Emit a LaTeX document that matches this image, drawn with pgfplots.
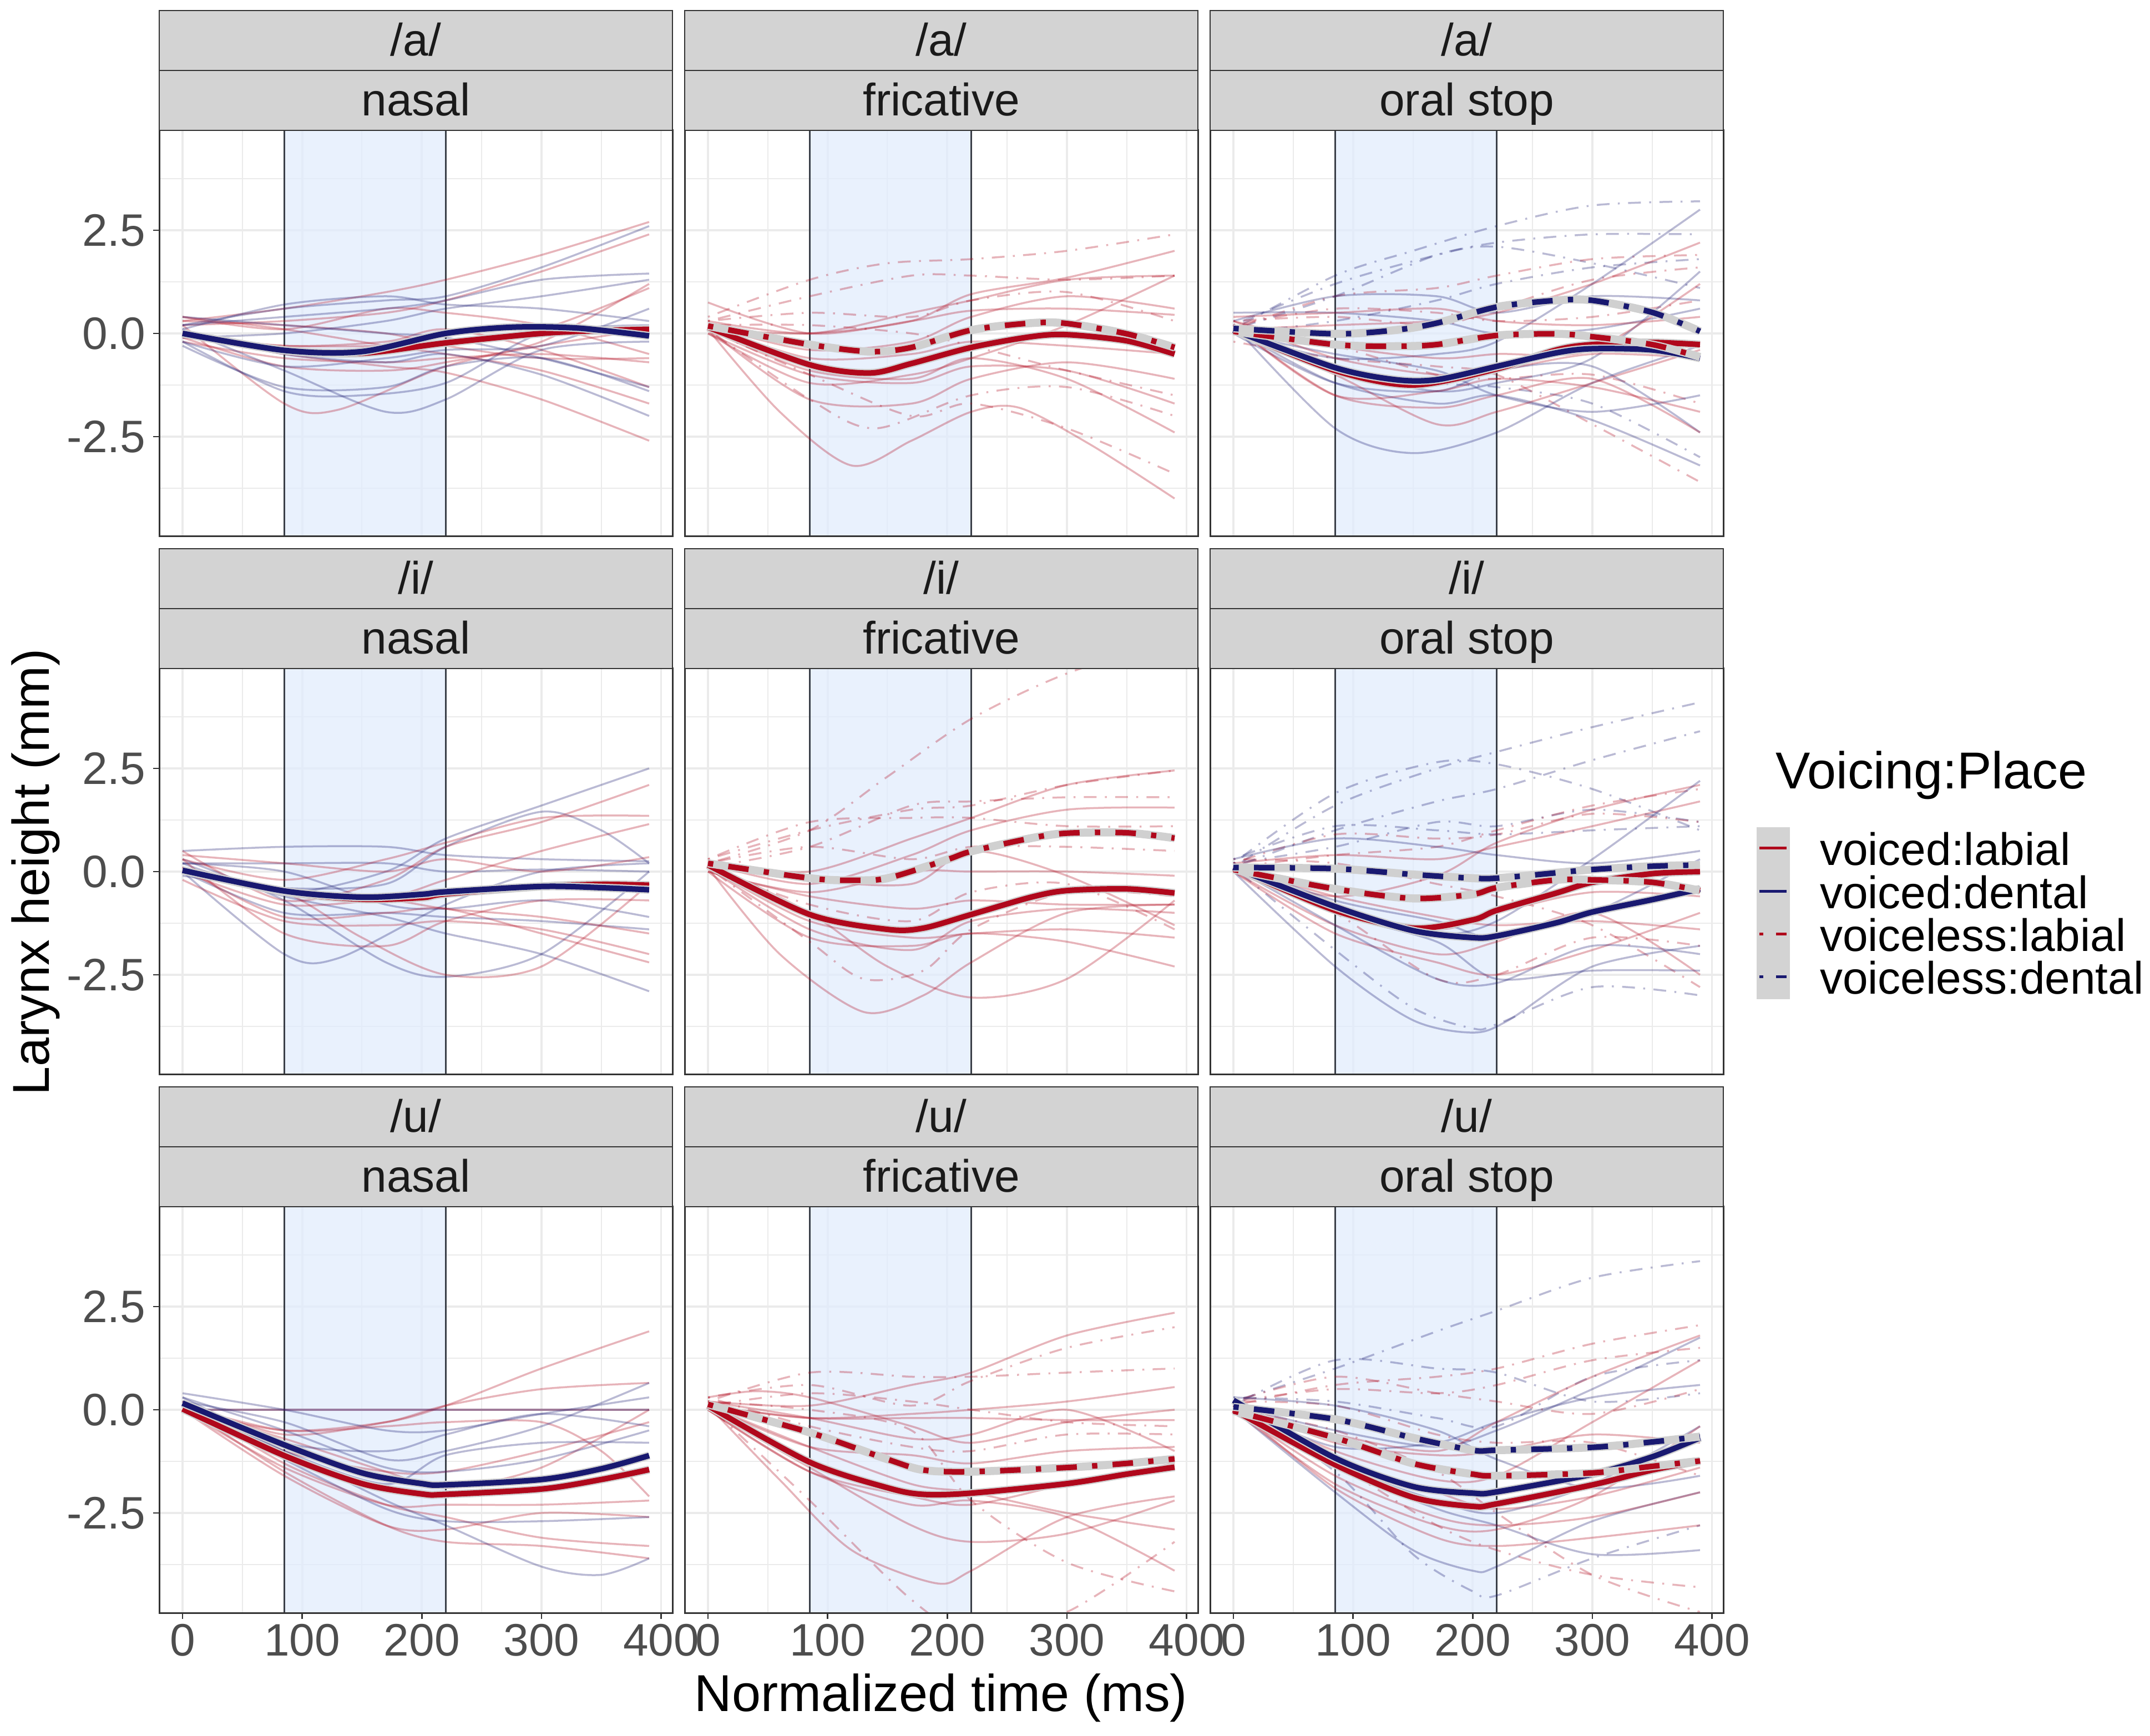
\documentclass[border=0pt]{standalone}
\usepackage{pgfplots}
\pgfplotsset{compat=1.18}
\usepackage{fontspec}
\setmainfont{Liberation Sans}
\newcommand\fs{\fontsize{16.4pt}{18pt}\selectfont}
\newcommand\fl{\fontsize{18.7pt}{21pt}\selectfont}
\definecolor{mred}{HTML}{B0081C}
\definecolor{mblue}{HTML}{191970}
\definecolor{g92}{HTML}{EBEBEB}
\definecolor{g20}{HTML}{333333}
\definecolor{g30}{HTML}{4D4D4D}
\definecolor{g10}{HTML}{1A1A1A}
\definecolor{stripbg}{HTML}{D3D3D3}
\definecolor{shadeb}{HTML}{E1ECFD}
\definecolor{vlc}{HTML}{3A3F48}
\definecolor{band}{HTML}{D0D0D0}
\pgfplotsset{
 panel/.style={scale only axis, width=185pt, height=146.4pt, anchor=south west,
   xmin=-19.5, xmax=409.5, ymin=-4.92, ymax=4.92,
   xtick={0,100,200,300,400}, ytick={-2.5,0,2.5},
   minor xtick={50,150,250,350}, minor ytick={-3.75,-1.25,1.25,3.75},
   grid=both, major grid style={draw=g92, line width=0.75pt}, minor grid style={draw=g92, line width=0.4pt},
   axis line style={draw=g20, line width=0.6pt},
   tick align=outside, tick pos=left, major tick length=2.2pt, minor tick length=0pt,
   xtick style={draw=none}, ytick style={draw=none},
   xticklabels={}, yticklabels={},
   ticklabel style={font=\fs, text=g30, inner sep=0pt},
   yticklabel style={anchor=east, xshift=-2.6pt},
   xticklabel style={anchor=north, yshift=-1.6pt},
   no markers, clip=true},
 ylab/.style={yticklabels={-2.5,0.0,2.5}, ytick style={draw=g20, line width=0.55pt}},
 xlab/.style={xticklabels={0,100,200,300,400}, xtick style={draw=g20, line width=0.55pt}},
 tr/.style={draw=mred, draw opacity=0.3, line width=0.7pt, smooth},
 tb/.style={draw=mblue, draw opacity=0.3, line width=0.7pt, smooth},
 trd/.style={tr, dash pattern=on 0.7pt off 3pt on 4.6pt off 3pt},
 tbd/.style={tb, dash pattern=on 0.7pt off 3pt on 4.6pt off 3pt},
 mean/.style={line width=2.0pt, smooth, preaction={draw=band, line width=2.9pt, solid}},
 mr/.style={mean, draw=mred},
 mb/.style={mean, draw=mblue},
 mrd/.style={mean, draw=mred, dash pattern=on 1.9pt off 5.5pt on 7.4pt off 5.5pt},
 mbd/.style={mean, draw=mblue, dash pattern=on 1.9pt off 5.5pt on 7.4pt off 5.5pt},
}
\newcommand\bgpanel{%
 \fill[shadeb, fill opacity=0.75] (85,-10) rectangle (220,10);
 \draw[vlc, line width=0.6pt] (85,-10) -- (85,10);
 \draw[vlc, line width=0.6pt] (220,-10) -- (220,10);}
\newcommand\strip[4]{%
 \draw[fill=stripbg, draw=g20, line width=0.5pt] (#1pt,#2pt) rectangle ++(185pt,21.6pt);
 \draw[fill=stripbg, draw=g20, line width=0.5pt] (#1pt,#2pt+21.6pt) rectangle ++(185pt,21.6pt);
 \node[anchor=base, font=\fs, text=g10, inner sep=0pt] at (#1pt+92.5pt,#2pt+5.2pt) {#4};
 \node[anchor=base, font=\fs, text=g10, inner sep=0pt] at (#1pt+92.5pt,#2pt+26.8pt) {#3};}
\newcommand\border[2]{\draw[g20, line width=0.6pt] (#1pt,#2pt) rectangle ++(185pt,146.4pt);}
\begin{document}
\begin{tikzpicture}
\path[use as bounding box] (0pt,0pt) rectangle (775pt,625.6pt);

% ---------------- Row 1: /a/ ----------------
\begin{axis}[panel, ylab, at={(57.4pt,432.2pt)}]
\bgpanel
\addplot[tr] coordinates {(0,0.3)(85,0.6)(170,1.0)(220,1.3)(300,1.9)(390,2.7)};
\addplot[tr] coordinates {(0,0.2)(85,0.3)(170,0.5)(220,0.8)(300,1.5)(390,2.4)};
\addplot[tr] coordinates {(0,-0.1)(85,-0.3)(170,-0.3)(220,-0.2)(300,0.1)(390,1.1)};
\addplot[tr] coordinates {(0,0)(85,-0.5)(170,-0.8)(220,-0.95)(300,-1.6)(390,-2.6)};
\addplot[tr] coordinates {(0,0.4)(85,0.1)(170,-0.3)(220,-0.5)(300,-0.9)(390,-1.7)};
\addplot[tr] coordinates {(0,0.2)(85,-1.7)(130,-1.85)(220,-0.8)(300,-0.3)(390,0.1)};
\addplot[tr] coordinates {(0,-0.2)(85,-0.6)(170,-0.7)(220,-0.6)(300,-0.5)(390,-0.7)};
\addplot[tr] coordinates {(0,0.3)(85,0.2)(170,0.0)(220,-0.3)(300,-0.6)(390,-0.6)};
\addplot[tr] coordinates {(0,-0.1)(85,-0.8)(170,-0.9)(220,-0.7)(300,-0.2)(390,1.2)};
\addplot[tr] coordinates {(0,0.0)(85,-0.3)(170,-0.2)(220,0.1)(300,-0.4)(390,-1.3)};
\addplot[tr] coordinates {(0,0.4)(85,0.1)(170,0.6)(220,0.5)(300,0.2)(390,-0.5)};
\addplot[tb] coordinates {(0,0.2)(85,0.6)(170,0.8)(220,0.9)(300,1.6)(390,2.6)};
\addplot[tb] coordinates {(0,0.2)(85,0.4)(170,0.6)(220,0.8)(300,1.3)(390,1.45)};
\addplot[tb] coordinates {(0,-0.1)(85,0.0)(170,0.3)(220,0.6)(300,0.9)(390,1.3)};
\addplot[tb] coordinates {(0,-0.2)(85,-0.8)(170,-0.6)(220,-0.4)(300,-0.3)(390,0.6)};
\addplot[tb] coordinates {(0,0.4)(85,0.2)(170,0.0)(220,-0.1)(300,-0.6)(390,-1.3)};
\addplot[tb] coordinates {(0,0.0)(85,-0.5)(170,-0.7)(220,-0.5)(300,-1.0)(390,-2.0)};
\addplot[tb] coordinates {(0,0.1)(85,-0.9)(170,-1.9)(220,-1.6)(300,-0.4)(390,-0.2)};
\addplot[tb] coordinates {(0,-0.3)(85,-1.3)(170,-1.3)(220,-0.8)(300,-0.6)(390,-1.4)};
\addplot[tb] coordinates {(0,0.1)(85,0.7)(170,0.9)(220,0.7)(300,0.6)(390,0.3)};
\addplot[tb] coordinates {(0,-0.2)(85,-1.4)(150,-1.5)(220,-1.2)(300,0.0)(390,0.2)};
\addplot[mr] coordinates {(0,0)(85,-0.41)(150,-0.48)(220,-0.23)(300,0.0)(350,0.07)(390,0.1)};
\addplot[mb] coordinates {(0,0)(85,-0.41)(150,-0.44)(220,0)(275,0.15)(330,0.13)(390,-0.06)};
\end{axis}

\begin{axis}[panel, at={(246.8pt,432.2pt)}]
\bgpanel
\addplot[tr] coordinates {(0,0.1)(85,0.0)(170,0.3)(220,0.95)(300,1.35)(390,2.0)};
\addplot[tr] coordinates {(0,0.3)(85,0.0)(170,0.5)(220,0.8)(300,1.3)(390,1.4)};
\addplot[tr] coordinates {(0,0.75)(85,0.0)(170,0.3)(220,0.55)(300,0.6)(390,0.45)};
\addplot[tr] coordinates {(0,0.0)(85,-1.2)(170,-1.0)(220,-0.6)(300,0.2)(390,1.4)};
\addplot[tr] coordinates {(0,0.1)(60,-1.9)(120,-3.2)(170,-2.6)(220,-1.9)(260,-1.8)(320,-2.7)(390,-4.0)};
\addplot[tr] coordinates {(0,0.1)(85,-0.9)(170,-1.1)(220,-0.6)(300,-1.1)(390,-2.4)};
\addplot[tr] coordinates {(0,0.0)(85,-1.0)(170,-1.2)(220,-0.8)(300,-0.9)(390,-1.7)};
\addplot[tr] coordinates {(0,0.2)(85,-0.6)(170,-0.5)(220,-0.2)(300,-0.3)(390,-0.5)};
\addplot[tr] coordinates {(0,0.1)(85,-1.6)(170,-1.7)(220,-1.1)(300,-0.7)(390,-1.1)};
\addplot[tr] coordinates {(0,0.2)(85,-0.4)(170,-0.2)(220,0.4)(300,0.9)(390,0.6)};
\addplot[trd] coordinates {(0,0.4)(85,1.3)(150,1.7)(220,1.8)(300,2.0)(390,2.4)};
\addplot[trd] coordinates {(0,0.3)(85,0.9)(170,1.4)(220,1.4)(300,1.3)(390,1.4)};
\addplot[trd] coordinates {(0,0.1)(85,-1.0)(170,-2.0)(220,-1.7)(300,-2.3)(390,-3.4)};
\addplot[trd] coordinates {(0,0.1)(85,-1.6)(140,-2.3)(220,-1.5)(300,-1.3)(390,-2.0)};
\addplot[trd] coordinates {(0,0.3)(85,0.5)(170,0.4)(220,0.8)(300,1.0)(390,0.3)};
\addplot[trd] coordinates {(0,0.2)(85,0.2)(170,0.0)(220,-0.3)(300,-0.9)(390,-1.5)};
\addplot[mr] coordinates {(0,0.15)(85,-0.76)(135,-0.96)(170,-0.73)(220,-0.34)(270,-0.08)(300,-0.03)(350,-0.18)(390,-0.5)};
\addplot[mrd] coordinates {(0,0.18)(85,-0.27)(135,-0.44)(170,-0.34)(220,0.08)(270,0.25)(300,0.24)(350,-0.01)(390,-0.34)};
\end{axis}

\begin{axis}[panel, at={(436.2pt,432.2pt)}]
\bgpanel
\addplot[tbd] coordinates {(0,0.1)(85,1.4)(150,2.0)(220,2.6)(300,3.1)(390,3.2)};
\addplot[tbd] coordinates {(0,0.2)(85,1.2)(170,1.9)(220,2.2)(300,2.4)(390,2.4)};
\addplot[tbd] coordinates {(0,0.1)(85,0.9)(170,1.9)(220,2.1)(300,1.7)(390,1.1)};
\addplot[tbd] coordinates {(0,0.0)(85,-0.8)(170,-1.2)(220,-1.3)(300,-1.7)(390,-3.0)};
\addplot[tbd] coordinates {(0,0.0)(85,0.3)(170,0.8)(220,1.2)(300,1.6)(390,1.8)};
\addplot[trd] coordinates {(0,-0.2)(85,-0.6)(170,-0.8)(220,-1.0)(300,-2.2)(390,-3.6)};
\addplot[trd] coordinates {(0,0.1)(85,0.9)(170,1.1)(220,1.4)(300,1.8)(390,1.9)};
\addplot[trd] coordinates {(0,0.2)(85,-0.3)(170,-1.0)(220,-1.1)(300,-1.0)(390,-1.7)};
\addplot[trd] coordinates {(0,0.2)(85,0.6)(170,0.5)(220,0.3)(300,0.4)(390,0.8)};
\addplot[trd] coordinates {(0,0.3)(85,0.4)(170,0.2)(220,0.6)(300,1.3)(390,1.6)};
\addplot[tb] coordinates {(0,0.0)(85,-0.6)(170,-0.5)(220,-0.2)(300,1.2)(390,3.0)};
\addplot[tb] coordinates {(0,0.1)(85,-1.2)(170,-1.7)(220,-1.5)(300,-2.1)(390,-3.2)};
\addplot[tb] coordinates {(0,0.2)(85,-2.3)(150,-2.9)(220,-2.4)(300,-1.2)(390,-0.3)};
\addplot[tb] coordinates {(0,0.1)(85,-0.9)(170,-1.4)(220,-1.2)(300,-0.6)(390,1.5)};
\addplot[tb] coordinates {(0,0.3)(85,0.9)(170,0.9)(220,0.5)(300,0.9)(390,0.8)};
\addplot[tb] coordinates {(0,0.0)(85,-1.2)(170,-1.4)(220,-0.9)(300,-0.8)(390,-2.4)};
\addplot[tb] coordinates {(0,0.5)(85,0.5)(170,0.3)(220,0.0)(300,0.1)(390,0.6)};
\addplot[tb] coordinates {(0,0.0)(85,-0.5)(170,-0.9)(220,-1.5)(300,-1.9)(390,-1.5)};
\addplot[tr] coordinates {(0,0.1)(85,0.2)(170,0.3)(220,0.5)(300,1.2)(390,2.2)};
\addplot[tr] coordinates {(0,0.2)(85,-1.5)(170,-1.8)(220,-1.5)(300,-1.1)(390,-2.4)};
\addplot[tr] coordinates {(0,0.3)(85,-0.6)(170,-1.0)(220,-0.9)(300,-0.5)(390,-0.6)};
\addplot[tr] coordinates {(0,0.4)(85,0.5)(170,0.6)(220,0.3)(300,0.2)(390,0.4)};
\addplot[tr] coordinates {(0,0.0)(85,-1.0)(170,-2.2)(220,-1.9)(300,-1.2)(390,-0.4)};
\addplot[tr] coordinates {(0,0.2)(85,-1.5)(170,-1.4)(220,-1.1)(300,-1.3)(390,-1.9)};
\addplot[tr] coordinates {(0,0.3)(85,-0.3)(170,-0.6)(220,-0.5)(300,-0.4)(390,1.2)};
\addplot[mr] coordinates {(0,0.08)(85,-0.9)(150,-1.25)(220,-0.86)(270,-0.4)(300,-0.27)(350,-0.22)(390,-0.27)};
\addplot[mb] coordinates {(0,0.08)(85,-0.83)(135,-1.12)(170,-1.12)(220,-0.8)(270,-0.47)(300,-0.37)(350,-0.4)(390,-0.6)};
\addplot[mrd] coordinates {(0,0.05)(85,-0.27)(135,-0.31)(170,-0.27)(220,-0.05)(270,-0.01)(300,-0.08)(350,-0.27)(390,-0.57)};
\addplot[mbd] coordinates {(0,0.12)(85,-0.01)(135,0.08)(170,0.25)(220,0.64)(270,0.8)(300,0.8)(350,0.51)(390,0.05)};
\end{axis}

% ---------------- Row 2: /i/ ----------------
\begin{axis}[panel, ylab, at={(57.4pt,238.2pt)}]
\bgpanel
\addplot[tb] coordinates {(0,0.2)(85,-0.5)(170,0.0)(220,0.8)(300,1.6)(390,2.5)};
\addplot[tb] coordinates {(0,-0.1)(85,-0.4)(170,-0.3)(220,0.6)(300,1.45)(350,1.0)(390,0.2)};
\addplot[tb] coordinates {(0,0.1)(85,-0.6)(170,-1.1)(220,-1.5)(300,-2.0)(390,-2.9)};
\addplot[tb] coordinates {(0,0.3)(85,-0.7)(170,-2.2)(220,-2.55)(300,-2.0)(390,0.0)};
\addplot[tb] coordinates {(0,0.5)(85,0.6)(170,0.6)(220,0.4)(300,0.3)(390,0.25)};
\addplot[tb] coordinates {(0,0.0)(85,-2.0)(130,-2.1)(220,-0.8)(300,0.0)(390,0.2)};
\addplot[tb] coordinates {(0,0.0)(85,-1.0)(170,-1.0)(220,-1.1)(300,-1.2)(390,-1.4)};
\addplot[tb] coordinates {(0,0.2)(85,0.0)(170,-0.8)(220,-0.9)(300,-0.7)(390,-1.1)};
\addplot[tb] coordinates {(0,0.2)(85,0.2)(170,0.2)(220,0.0)(300,0.05)(390,0.0)};
\addplot[tr] coordinates {(0,0.5)(85,-0.7)(170,-0.2)(220,0.6)(300,1.2)(390,2.1)};
\addplot[tr] coordinates {(0,0.3)(85,-0.2)(170,0.3)(220,0.7)(300,1.3)(390,1.35)};
\addplot[tr] coordinates {(0,0.0)(85,-0.4)(170,-0.6)(220,-0.2)(300,0.5)(390,1.15)};
\addplot[tr] coordinates {(0,0.1)(85,-1.1)(170,-1.0)(220,-0.9)(300,-1.5)(390,-2.2)};
\addplot[tr] coordinates {(0,-0.2)(85,-1.2)(170,-1.3)(220,-1.2)(300,-1.4)(390,-2.0)};
\addplot[tr] coordinates {(0,0.1)(85,-0.5)(150,-1.6)(220,-2.5)(300,-2.3)(390,-0.3)};
\addplot[tr] coordinates {(0,0.4)(85,0.2)(170,0.0)(220,0.3)(300,0.0)(390,0.35)};
\addplot[tr] coordinates {(0,0.0)(85,-0.8)(170,-0.7)(220,-0.9)(300,-1.1)(390,-1.5)};
\addplot[tr] coordinates {(0,0.3)(85,-1.5)(170,-1.8)(220,-1.2)(300,-0.7)(390,-0.7)};
\addplot[mr] coordinates {(0,0.03)(85,-0.49)(150,-0.67)(200,-0.63)(220,-0.54)(300,-0.36)(350,-0.31)(390,-0.33)};
\addplot[mb] coordinates {(0,0.03)(85,-0.47)(150,-0.62)(200,-0.55)(220,-0.49)(300,-0.36)(350,-0.39)(390,-0.44)};
\end{axis}

\begin{axis}[panel, at={(246.8pt,238.2pt)}]
\bgpanel
\addplot[trd] coordinates {(0,0.2)(85,1.0)(150,2.3)(220,3.7)(300,4.8)(390,5.6)};
\addplot[trd] coordinates {(0,0.3)(85,1.0)(170,1.5)(220,1.6)(300,2.1)(390,2.45)};
\addplot[trd] coordinates {(0,0.1)(85,0.6)(170,1.6)(220,1.7)(300,1.8)(390,1.8)};
\addplot[trd] coordinates {(0,0.3)(85,1.2)(170,1.3)(220,1.3)(300,1.1)(390,1.1)};
\addplot[trd] coordinates {(0,0.1)(85,-1.7)(130,-2.6)(180,-2.4)(220,-1.4)(300,-0.5)(390,-0.6)};
\addplot[trd] coordinates {(0,0.2)(85,0.6)(170,0.3)(220,0.6)(300,0.6)(390,0.5)};
\addplot[trd] coordinates {(0,0.1)(85,-0.8)(170,-1.2)(220,-0.5)(300,-0.3)(390,-1.4)};
\addplot[tr] coordinates {(0,0.2)(85,0.0)(170,0.8)(220,1.3)(300,2.1)(390,2.45)};
\addplot[tr] coordinates {(0,0.2)(85,-0.3)(170,0.4)(220,1.0)(300,1.5)(390,1.55)};
\addplot[tr] coordinates {(0,0.0)(85,-0.5)(170,0.0)(220,0.0)(300,0.0)(390,-0.1)};
\addplot[tr] coordinates {(0,0.1)(60,-2.0)(130,-3.4)(180,-3.0)(220,-2.2)(300,-1.0)(390,-0.8)};
\addplot[tr] coordinates {(0,0.2)(85,-1.0)(150,-2.3)(220,-3.05)(300,-2.6)(390,-0.7)};
\addplot[tr] coordinates {(0,0.0)(85,-1.6)(170,-1.8)(220,-1.5)(300,-1.7)(390,-2.3)};
\addplot[tr] coordinates {(0,0.1)(85,-1.2)(170,-1.6)(220,-1.5)(300,-1.4)(390,-1.6)};
\addplot[tr] coordinates {(0,0.0)(85,-0.6)(170,-0.9)(220,-0.7)(300,-0.8)(390,-0.8)};
\addplot[tr] coordinates {(0,0.2)(85,-0.2)(170,-0.3)(220,0.5)(300,-0.1)(390,-1.3)};
\addplot[tr] coordinates {(0,0.1)(85,-1.4)(170,-1.9)(220,-1.2)(300,-0.9)(390,-1.0)};
\addplot[mr] coordinates {(0,0.16)(85,-1.04)(150,-1.4)(180,-1.37)(220,-1.04)(270,-0.62)(300,-0.46)(350,-0.42)(390,-0.52)};
\addplot[mrd] coordinates {(0,0.2)(85,-0.16)(120,-0.21)(150,-0.16)(200,0.29)(220,0.49)(270,0.81)(300,0.93)(350,0.94)(390,0.81)};
\end{axis}

\begin{axis}[panel, at={(436.2pt,238.2pt)}]
\bgpanel
\addplot[tbd] coordinates {(0,0.1)(85,1.6)(170,2.5)(220,2.9)(300,3.5)(390,4.1)};
\addplot[tbd] coordinates {(0,0.1)(85,1.0)(170,1.7)(220,2.0)(300,2.7)(390,3.4)};
\addplot[tbd] coordinates {(0,0.2)(85,1.9)(170,2.65)(220,2.6)(300,2.0)(390,1.0)};
\addplot[tbd] coordinates {(0,0.1)(85,-1.9)(150,-3.3)(200,-3.8)(220,-3.7)(300,-2.8)(390,-3.0)};
\addplot[tbd] coordinates {(0,0.3)(85,1.1)(170,1.0)(220,0.9)(300,1.0)(390,1.1)};
\addplot[tbd] coordinates {(0,0.2)(85,0.6)(170,1.2)(220,1.1)(300,1.5)(390,1.2)};
\addplot[trd] coordinates {(0,0.1)(85,0.4)(170,0.6)(220,1.0)(300,1.6)(390,2.0)};
\addplot[trd] coordinates {(0,0.2)(85,0.9)(170,0.8)(220,0.9)(300,1.4)(390,1.2)};
\addplot[trd] coordinates {(0,0.0)(85,-1.0)(170,-2.6)(220,-2.5)(300,-1.6)(390,-1.8)};
\addplot[trd] coordinates {(0,0.3)(85,0.2)(170,-0.3)(220,-0.6)(300,-1.3)(390,-2.8)};
\addplot[tr] coordinates {(0,0.0)(85,-0.6)(170,-0.1)(220,0.7)(300,1.5)(390,2.1)};
\addplot[tr] coordinates {(0,0.0)(85,-1.5)(170,-2.2)(220,-2.5)(300,-1.9)(390,-1.0)};
\addplot[tr] coordinates {(0,0.1)(85,-0.9)(170,-1.4)(220,-1.0)(300,-0.5)(390,-0.6)};
\addplot[tr] coordinates {(0,0.0)(85,-1.3)(170,-2.0)(220,-1.7)(300,-1.0)(390,-2.5)};
\addplot[tr] coordinates {(0,0.2)(85,0.4)(170,0.3)(220,0.6)(300,1.1)(390,1.7)};
\addplot[tr] coordinates {(0,0.1)(85,-0.6)(170,-1.1)(220,-1.3)(300,-1.2)(390,-1.4)};
\addplot[tb] coordinates {(0,0.0)(85,-0.9)(170,-1.5)(220,-1.2)(300,0.3)(390,2.2)};
\addplot[tb] coordinates {(0,0.0)(85,-2.3)(150,-3.6)(200,-3.9)(230,-3.6)(300,-2.3)(390,-1.8)};
\addplot[tb] coordinates {(0,0.3)(85,0.8)(170,0.6)(220,0.4)(300,0.2)(390,0.5)};
\addplot[tb] coordinates {(0,0.1)(85,-1.0)(170,-1.7)(220,-2.6)(300,-2.4)(390,-2.4)};
\addplot[tb] coordinates {(0,0.2)(85,-0.7)(170,-1.2)(220,-1.6)(300,-1.0)(390,0.3)};
\addplot[tb] coordinates {(0,0.1)(85,-1.3)(170,-2.6)(220,-2.7)(300,-1.8)(390,-2.0)};
\addplot[mr] coordinates {(0,0.1)(85,-0.94)(150,-1.37)(200,-1.17)(220,-0.94)(270,-0.52)(300,-0.26)(350,-0.05)(390,0.0)};
\addplot[mb] coordinates {(0,0.1)(85,-0.85)(150,-1.43)(200,-1.6)(220,-1.56)(270,-1.24)(300,-0.98)(350,-0.68)(390,-0.42)};
\addplot[mrd] coordinates {(0,0.05)(85,-0.42)(150,-0.65)(200,-0.55)(220,-0.39)(270,-0.2)(300,-0.2)(350,-0.26)(390,-0.46)};
\addplot[mbd] coordinates {(0,0.1)(85,0.07)(150,-0.07)(200,-0.16)(220,-0.16)(270,-0.03)(300,0.05)(350,0.13)(390,0.16)};
\end{axis}

% ---------------- Row 3: /u/ ----------------
\begin{axis}[panel, ylab, xlab, at={(57.4pt,44.2pt)}]
\bgpanel
\addplot[tr] coordinates {(0,0.0)(85,-0.5)(170,-0.3)(220,0.1)(300,1.0)(390,1.9)};
\addplot[tr] coordinates {(0,0.2)(85,-0.6)(170,-0.3)(220,0.1)(300,0.5)(390,0.65)};
\addplot[tr] coordinates {(0,0)(390,0)};
\addplot[tr] coordinates {(0,0.1)(85,-1.0)(170,-1.5)(220,-1.5)(300,-1.0)(390,-0.3)};
\addplot[tr] coordinates {(0,0.0)(85,-1.4)(170,-2.3)(220,-2.3)(300,-2.3)(390,-2.2)};
\addplot[tr] coordinates {(0,0.1)(85,-1.5)(170,-2.8)(220,-3.2)(300,-3.3)(390,-3.6)};
\addplot[tr] coordinates {(0,0.2)(85,-1.3)(170,-2.3)(220,-2.6)(300,-3.1)(390,-3.3)};
\addplot[tr] coordinates {(0,0.0)(85,-0.7)(170,-1.5)(220,-1.9)(300,-1.4)(390,0.0)};
\addplot[tr] coordinates {(0,0.1)(85,-0.5)(170,-0.4)(220,-0.3)(300,-0.3)(350,-1.0)(390,-2.1)};
\addplot[tr] coordinates {(0,0.0)(85,-1.6)(170,-2.8)(220,-2.9)(300,-2.5)(390,-2.6)};
\addplot[tb] coordinates {(0,0.2)(85,-0.3)(170,-1.2)(220,-1.0)(300,-0.4)(390,0.65)};
\addplot[tb] coordinates {(0,0.4)(85,0.0)(170,-0.5)(220,-0.5)(300,-0.1)(390,0.3)};
\addplot[tb] coordinates {(0,0.1)(85,-1.0)(170,-2.2)(220,-2.8)(300,-3.8)(350,-4.0)(390,-3.6)};
\addplot[tb] coordinates {(0,0.1)(85,-1.2)(170,-2.4)(220,-2.7)(300,-2.7)(390,-2.6)};
\addplot[tb] coordinates {(0,0.3)(85,-0.8)(170,-1.0)(220,-0.6)(300,-0.1)(390,-0.4)};
\addplot[tb] coordinates {(0,0.2)(85,-1.0)(170,-1.8)(220,-1.1)(300,-0.8)(390,-0.8)};
\addplot[tb] coordinates {(0,0.3)(85,-0.5)(170,-1.4)(220,-1.5)(300,-1.2)(390,-0.5)};
\addplot[tb] coordinates {(0,0)(390,0)};
\addplot[mr] coordinates {(0,0.02)(85,-1.11)(150,-1.79)(200,-2.04)(220,-2.05)(300,-1.92)(350,-1.69)(390,-1.45)};
\addplot[mb] coordinates {(0,0.16)(85,-0.85)(150,-1.53)(200,-1.79)(220,-1.82)(300,-1.69)(350,-1.43)(390,-1.11)};
\end{axis}

\begin{axis}[panel, xlab, at={(246.8pt,44.2pt)}]
\bgpanel
\addplot[tr] coordinates {(0,0.2)(85,0.1)(170,0.6)(220,0.9)(300,1.8)(390,2.35)};
\addplot[tr] coordinates {(0,0.1)(85,-0.2)(170,-0.1)(220,0.0)(300,0.2)(390,0.55)};
\addplot[tr] coordinates {(0,0.3)(40,0.45)(85,0.3)(170,-0.4)(220,-0.8)(300,-0.3)(390,0.0)};
\addplot[tr] coordinates {(0,0.1)(85,-0.2)(170,-0.2)(220,-0.2)(300,-0.25)(390,-0.25)};
\addplot[tr] coordinates {(0,0.0)(85,-1.5)(170,-2.3)(220,-2.2)(300,-2.6)(390,-3.9)};
\addplot[tr] coordinates {(0,0.1)(60,-1.7)(120,-3.4)(190,-4.2)(220,-3.9)(300,-2.6)(390,-2.1)};
\addplot[tr] coordinates {(0,0.0)(85,-1.5)(170,-2.1)(220,-2.3)(300,-1.8)(390,-1.3)};
\addplot[tr] coordinates {(0,0.1)(85,-0.9)(170,-1.8)(220,-2.0)(300,-2.5)(390,-2.9)};
\addplot[tr] coordinates {(0,0.0)(85,-1.4)(170,-2.8)(220,-3.2)(300,-3.0)(390,-2.2)};
\addplot[tr] coordinates {(0,0.2)(85,-0.2)(170,-0.7)(220,-0.6)(300,0.0)(390,-1.0)};
\addplot[tr] coordinates {(0,0.1)(85,-0.9)(170,-1.1)(220,-1.3)(300,-1.0)(390,-0.9)};
\addplot[trd] coordinates {(0,0.3)(85,0.6)(170,0.1)(220,0.7)(300,1.5)(390,2.0)};
\addplot[trd] coordinates {(0,0.2)(85,0.9)(170,0.8)(220,0.8)(300,0.9)(390,1.0)};
\addplot[trd] coordinates {(0,0.1)(85,-2.2)(170,-4.6)(220,-5.4)(300,-4.9)(390,-3.2)};
\addplot[trd] coordinates {(0,0.3)(85,-0.4)(170,-0.9)(220,-1.0)(300,-0.6)(390,-0.6)};
\addplot[trd] coordinates {(0,0.2)(85,0.0)(170,-0.5)(220,-2.2)(300,-3.7)(390,-4.4)};
\addplot[trd] coordinates {(0,0.1)(85,0.4)(170,0.2)(220,0.0)(300,-0.3)(390,-0.4)};
\addplot[mr] coordinates {(0,0.1)(85,-1.27)(150,-1.89)(180,-2.05)(220,-2.02)(300,-1.79)(350,-1.56)(390,-1.39)};
\addplot[mrd] coordinates {(0,0.13)(85,-0.55)(150,-1.2)(180,-1.46)(220,-1.5)(300,-1.4)(350,-1.3)(390,-1.19)};
\end{axis}

\begin{axis}[panel, xlab, at={(436.2pt,44.2pt)}]
\bgpanel
\addplot[tbd] coordinates {(0,0.2)(85,1.0)(170,1.9)(220,2.4)(300,3.2)(390,3.6)};
\addplot[tbd] coordinates {(0,0.1)(85,-1.5)(150,-3.5)(200,-4.4)(220,-4.5)(300,-3.6)(390,-2.8)};
\addplot[tbd] coordinates {(0,0.1)(85,1.2)(170,1.0)(220,0.9)(300,0.2)(390,0.4)};
\addplot[tbd] coordinates {(0,0.3)(85,0.2)(170,-0.2)(220,-0.4)(300,0.8)(390,1.2)};
\addplot[trd] coordinates {(0,0.1)(85,0.6)(170,0.8)(220,1.0)(300,1.6)(390,2.05)};
\addplot[trd] coordinates {(0,0.2)(85,0.5)(170,0.4)(220,0.6)(300,1.2)(390,1.5)};
\addplot[trd] coordinates {(0,0.0)(85,-0.5)(170,-1.5)(220,-2.5)(300,-4.0)(390,-4.9)};
\addplot[trd] coordinates {(0,0.1)(85,-1.3)(170,-2.8)(220,-3.4)(300,-4.0)(390,-4.3)};
\addplot[trd] coordinates {(0,0.2)(85,0.1)(170,-0.6)(220,-0.8)(300,-0.8)(390,-1.6)};
\addplot[trd] coordinates {(0,0.2)(85,0.8)(170,0.4)(220,0.2)(300,-0.1)(390,0.5)};
\addplot[tb] coordinates {(0,0.1)(85,-0.5)(170,-0.9)(220,-0.5)(300,0.5)(390,1.75)};
\addplot[tb] coordinates {(0,0.1)(85,-0.9)(170,-0.8)(220,-0.3)(300,0.3)(390,0.6)};
\addplot[tb] coordinates {(0,0.0)(85,-1.4)(170,-2.4)(220,-2.8)(300,-3.5)(390,-3.4)};
\addplot[tb] coordinates {(0,0.0)(85,-2.0)(150,-3.4)(200,-3.9)(220,-3.8)(300,-2.7)(390,-2.0)};
\addplot[tb] coordinates {(0,0.3)(85,0.1)(170,-0.5)(220,-1.2)(300,-1.9)(390,-1.6)};
\addplot[tb] coordinates {(0,0.2)(85,-1.3)(170,-2.2)(220,-2.5)(300,-1.8)(390,-0.4)};
\addplot[tr] coordinates {(0,0.1)(85,-0.6)(170,-1.0)(220,-0.3)(300,0.8)(390,1.8)};
\addplot[tr] coordinates {(0,0.0)(85,-1.6)(170,-2.6)(220,-2.8)(300,-2.6)(390,-2.0)};
\addplot[tr] coordinates {(0,0.1)(85,-1.9)(170,-3.1)(220,-3.3)(300,-3.1)(390,-2.8)};
\addplot[tr] coordinates {(0,0.0)(85,-1.2)(170,-2.0)(220,-2.4)(300,-2.1)(390,-1.4)};
\addplot[tr] coordinates {(0,0.2)(85,-0.8)(170,-1.1)(220,-1.0)(300,-0.6)(390,-0.8)};
\addplot[tr] coordinates {(0,0.0)(85,-1.8)(170,-2.8)(220,-2.9)(300,-2.1)(390,-0.4)};
\addplot[tr] coordinates {(0,0.1)(85,-1.0)(170,-1.7)(220,-1.6)(300,-0.3)(390,1.2)};
\addplot[mr] coordinates {(0,0.0)(85,-1.33)(150,-2.12)(200,-2.34)(220,-2.28)(300,-1.82)(350,-1.46)(390,-1.24)};
\addplot[mb] coordinates {(0,0.23)(85,-1.17)(150,-1.86)(200,-2.02)(220,-1.99)(300,-1.56)(350,-1.14)(390,-0.68)};
\addplot[mrd] coordinates {(0,-0.03)(85,-0.68)(150,-1.3)(200,-1.56)(220,-1.6)(300,-1.53)(350,-1.37)(390,-1.24)};
\addplot[mbd] coordinates {(0,0.07)(85,-0.23)(150,-0.68)(200,-0.98)(220,-0.98)(300,-0.91)(350,-0.78)(390,-0.65)};
\end{axis}

% panel borders and strips
\border{57.4}{432.2}\border{246.8}{432.2}\border{436.2}{432.2}
\border{57.4}{238.2}\border{246.8}{238.2}\border{436.2}{238.2}
\border{57.4}{44.2}\border{246.8}{44.2}\border{436.2}{44.2}
\strip{57.4}{578.6}{/a/}{nasal}
\strip{246.8}{578.6}{/a/}{fricative}
\strip{436.2}{578.6}{/a/}{oral stop}
\strip{57.4}{384.6}{/i/}{nasal}
\strip{246.8}{384.6}{/i/}{fricative}
\strip{436.2}{384.6}{/i/}{oral stop}
\strip{57.4}{190.6}{/u/}{nasal}
\strip{246.8}{190.6}{/u/}{fricative}
\strip{436.2}{190.6}{/u/}{oral stop}

% axis titles
\node[rotate=90, anchor=base, font=\fl, inner sep=0pt] at (17.6pt,311.2pt) {Larynx height (mm)};
\node[anchor=base, font=\fl, inner sep=0pt] at (339.2pt,8.8pt) {Normalized time (ms)};

% legend
\node[anchor=base west, font=\fl, inner sep=0pt] at (639.8pt,341.2pt) {Voicing:Place};
\fill[stripbg] (633.2pt,265.4pt) rectangle (645.2pt,327.4pt);
\draw[mred, line width=1pt] (634.2pt,319.8pt) -- (644pt,319.8pt);
\draw[mblue, line width=1pt] (634.2pt,304.2pt) -- (644pt,304.2pt);
\draw[mred, line width=1pt, dash pattern=on 1.4pt off 4.6pt on 6pt off 4pt] (634.2pt,288.8pt) -- (644pt,288.8pt);
\draw[mblue, line width=1pt, dash pattern=on 1.4pt off 4.6pt on 6pt off 4pt] (634.2pt,273.4pt) -- (644pt,273.4pt);
\node[anchor=base west, font=\fs, inner sep=0pt] at (655.8pt,313.6pt) {voiced:labial};
\node[anchor=base west, font=\fs, inner sep=0pt] at (655.8pt,298.0pt) {voiced:dental};
\node[anchor=base west, font=\fs, inner sep=0pt] at (655.8pt,282.6pt) {voiceless:labial};
\node[anchor=base west, font=\fs, inner sep=0pt] at (655.8pt,267.2pt) {voiceless:dental};
\end{tikzpicture}
\end{document}
